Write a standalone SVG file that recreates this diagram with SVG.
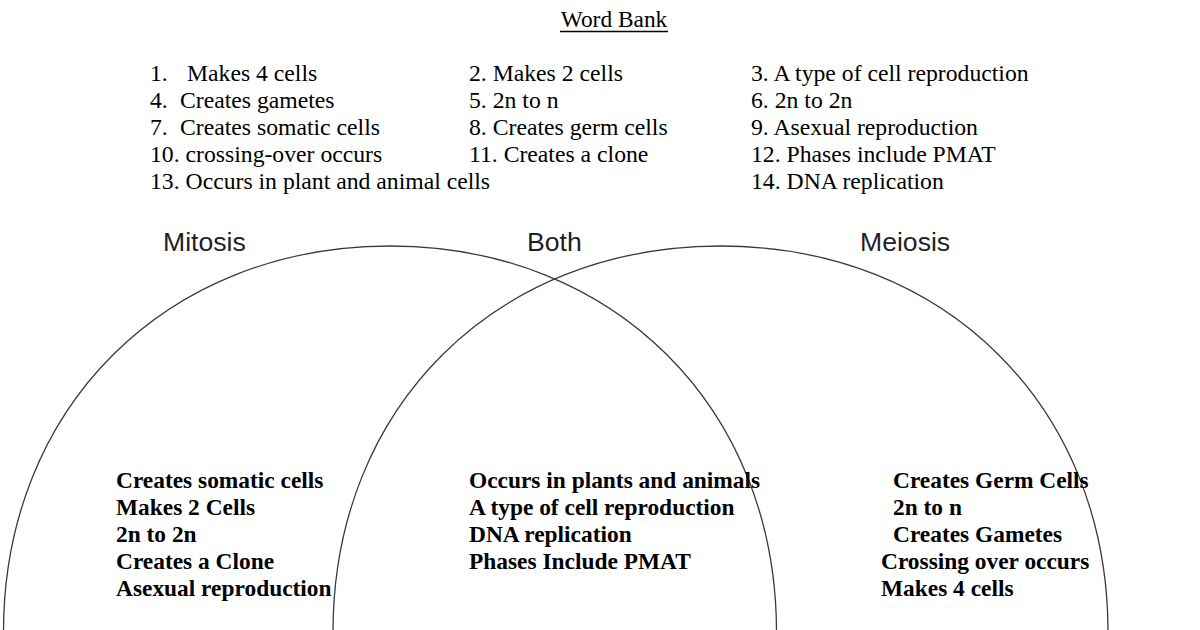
<svg xmlns="http://www.w3.org/2000/svg" width="1200" height="630" viewBox="0 0 1200 630">
<style>
.wb{font-family:"Liberation Serif","Times New Roman",serif;font-size:23.7px;fill:#000}
.bd{font-family:"Liberation Serif","Times New Roman",serif;font-size:23.4px;font-weight:bold;fill:#000}
.lb{font-family:"Liberation Sans",Arial,sans-serif;font-size:26.6px;fill:#1e1e28}
.ring{fill:none;stroke:#3a3a3a;stroke-width:1.3}
</style>
<rect width="1200" height="630" fill="#fff"/>
<g id="title">
<text class="wb" x="614" y="27" text-anchor="middle" style="font-size:23.4px">Word Bank</text>
<line x1="560" y1="31.5" x2="668" y2="31.5" stroke="#000" stroke-width="1.3"/>
</g>
<g id="word-bank">
<text class="wb" x="150" y="81">1.<tspan x="187">Makes 4 cells</tspan></text>
<text class="wb" x="150" y="108">4.<tspan x="180">Creates gametes</tspan></text>
<text class="wb" x="150" y="135">7.<tspan x="180">Creates somatic cells</tspan></text>
<text class="wb" x="150" y="162">10. crossing-over occurs</text>
<text class="wb" x="150" y="189">13. Occurs in plant and animal cells</text>
<text class="wb" x="469" y="81">2. Makes 2 cells</text>
<text class="wb" x="469" y="108">5. 2n to n</text>
<text class="wb" x="469" y="135">8. Creates germ cells</text>
<text class="wb" x="469" y="162">11. Creates a clone</text>
<text class="wb" x="751" y="81">3. A type of cell reproduction</text>
<text class="wb" x="751" y="108">6. 2n to 2n</text>
<text class="wb" x="751" y="135">9. Asexual reproduction</text>
<text class="wb" x="751" y="162">12. Phases include PMAT</text>
<text class="wb" x="751" y="189">14. DNA replication</text>
</g>
<g id="mitosis">
<path class="ring" d="M 3.5 640 L 3.5 632 C 3.5 408.1 166.1 246 390 246 C 613.9 246 776.5 408.1 776.5 632 L 776.5 640"/>
<text class="lb" x="163" y="251">Mitosis</text>
<text class="bd" x="116" y="488">Creates somatic cells</text>
<text class="bd" x="116" y="515">Makes 2 Cells</text>
<text class="bd" x="116" y="542">2n to 2n</text>
<text class="bd" x="116" y="569">Creates a Clone</text>
<text class="bd" x="116" y="596">Asexual reproduction</text>
</g>
<g id="meiosis">
<path class="ring" d="M 333 640 L 333 632 C 333 407.25 495.75 246 720.5 246 C 945.25 246 1108 407.25 1108 632 L 1108 640"/>
<text class="lb" x="860" y="251">Meiosis</text>
<text class="bd" x="893" y="488">Creates Germ Cells</text>
<text class="bd" x="893" y="515">2n to n</text>
<text class="bd" x="893" y="542">Creates Gametes</text>
<text class="bd" x="881" y="569">Crossing over occurs</text>
<text class="bd" x="881" y="596">Makes 4 cells</text>
</g>
<g id="both">
<text class="lb" x="527" y="251">Both</text>
<text class="bd" x="469" y="488">Occurs in plants and animals</text>
<text class="bd" x="469" y="515">A type of cell reproduction</text>
<text class="bd" x="469" y="542">DNA replication</text>
<text class="bd" x="469" y="569">Phases Include PMAT</text>
</g>
</svg>
